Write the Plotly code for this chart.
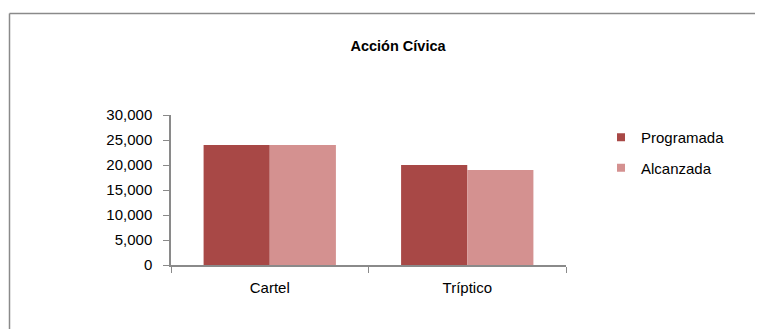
import plotly.graph_objects as go

categories = ["Cartel", "Tríptico"]
programada = [24000, 20000]
alcanzada = [24000, 19000]

OFF = 8  # the page body margin shifts the figure by 8 px
W, H = 763 - OFF, 329 - OFF
# plot area, in reference screen pixels
L, R, T, B = 171, 566, 115, 265

pw, ph = R - L, B - T
def px(x): return (x - L) / pw
def py(y): return (B - y) / ph

FONT = "Liberation Sans, Arial, sans-serif"
axis_font = dict(family=FONT, size=15, color="#000")
grey = "#8a8a8a"

fig = go.Figure()
fig.add_trace(go.Bar(x=categories, y=programada, name="Programada", showlegend=False,
                     marker=dict(color="#A84846", line=dict(width=0))))
fig.add_trace(go.Bar(x=categories, y=alcanzada, name="Alcanzada", showlegend=False,
                     marker=dict(color="#D49190", line=dict(width=0))))
# legend entries with small square keys
for name, col in [("Programada", "#A84846"), ("Alcanzada", "#D49190")]:
    fig.add_trace(go.Scatter(x=[None], y=[None], mode="markers", name=name, legendgroup=name,
                             marker=dict(symbol="square", size=8, color=col)))

fig.update_layout(
    width=W, height=H,
    margin=dict(l=L - OFF, r=W - (R - OFF), t=T - OFF, b=H - (B - OFF), pad=0),
    paper_bgcolor="white", plot_bgcolor="white",
    barmode="group", bargap=0.33, bargroupgap=0,
    title=dict(text="<b>Acción Cívica</b>", x=(398 - OFF) / W, xanchor="center",
               y=1 - (46 - OFF) / H, yanchor="middle",
               font=dict(family=FONT, size=14.5, color="#000")),
    font=axis_font,
    xaxis=dict(showline=True, linecolor=grey, linewidth=1.5, ticks="outside",
               tickson="boundaries", ticklen=6, tickcolor=grey, showgrid=False,
               tickfont=axis_font, ticklabelstandoff=8),
    yaxis=dict(range=[0, 30000], dtick=5000, tickformat=",d", showline=True,
               linecolor=grey, linewidth=1.5, ticks="outside", ticklen=6,
               tickcolor=grey, showgrid=False, zeroline=False, tickfont=axis_font,
               ticklabelstandoff=8),
    legend=dict(x=px(601), y=py(121), xanchor="left", yanchor="top",
                font=dict(family=FONT, size=15, color="#000"),
                itemwidth=30, tracegroupgap=8, bgcolor="rgba(0,0,0,0)"),
    shapes=[
        dict(type="line", xref="paper", yref="paper", x0=px(9.5), x1=px(770), y0=py(13.5), y1=py(13.5),
             line=dict(color=grey, width=1.5)),
        dict(type="line", xref="paper", yref="paper", x0=px(9.5), x1=px(9.5), y0=py(13.5), y1=py(340),
             line=dict(color=grey, width=1.5)),
    ],
)

fig.write_html("out.html")
